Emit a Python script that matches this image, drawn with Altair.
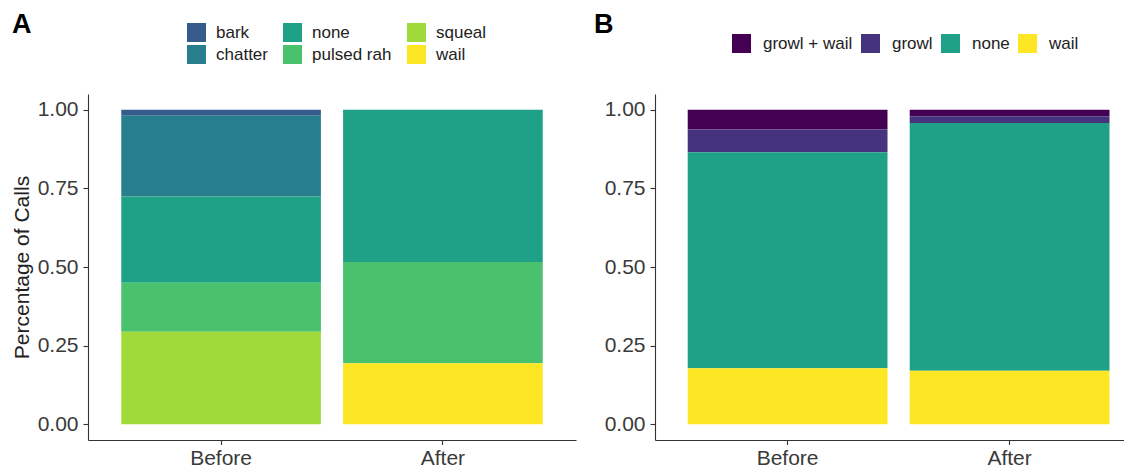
import altair as alt
import pandas as pd

periods = ["Before", "After"]
y_ticks = [0, 0.25, 0.5, 0.75, 1.0]

# Panel A
a_period = ["Before", "Before", "Before", "Before", "Before", "After", "After", "After"]
a_call = ["bark", "chatter", "none", "pulsed rah", "squeal", "none", "pulsed rah", "wail"]
a_share = [0.019, 0.257, 0.274, 0.156, 0.294, 0.484, 0.322, 0.194]
a_stack = ["bark", "chatter", "none", "pulsed rah", "squeal", "wail"]  # top -> bottom
a_legend_order = ["bark", "none", "squeal", "chatter", "pulsed rah", "wail"]
a_legend_colors = ["#365C8D", "#1FA187", "#9FDA3A", "#277F8E", "#4AC16D", "#FDE725"]

# Panel B
b_period = ["Before", "Before", "Before", "Before", "After", "After", "After", "After"]
b_call = ["growl + wail", "growl", "none", "wail", "growl + wail", "growl", "none", "wail"]
b_share = [0.063, 0.072, 0.687, 0.178, 0.021, 0.021, 0.788, 0.170]
b_stack = ["growl + wail", "growl", "none", "wail"]  # top -> bottom
b_legend_colors = ["#440154", "#46337E", "#1FA187", "#FDE725"]

df_a = pd.DataFrame({"period": a_period, "call": a_call, "share": a_share})
df_a["ord"] = [len(a_stack) - 1 - a_stack.index(c) for c in a_call]
df_b = pd.DataFrame({"period": b_period, "call": b_call, "share": b_share})
df_b["ord"] = [len(b_stack) - 1 - b_stack.index(c) for c in b_call]

FONT = "Liberation Sans"
AX = dict(domainColor="#333333", domainWidth=1.1, tickColor="#333333", tickWidth=1.1,
          labelFontSize=21, labelColor="#3a3a3a", labelFont=FONT, grid=False)


def yaxis(title):
    kw = dict(AX)
    kw.update(values=y_ticks, format=".2f", tickSize=5, labelPadding=5)
    if title:
        kw.update(title=title, titleFontSize=21, titleFont=FONT, titleFontWeight="normal",
                  titleColor="#222222", titlePadding=5)
    else:
        kw.update(title=None)
    return alt.Axis(**kw)


xaxis = alt.Axis(title=None, labelAngle=0, tickSize=4.5, labelPadding=3, **AX)

ysc = alt.Scale(domain=[-0.05, 1.05], nice=False, zero=False)


def panel_title(text, dx, dy):
    return alt.TitleParams(text, anchor="start", frame="group", fontSize=27, fontWeight="bold",
                           font=FONT, color="black", baseline="top", dx=dx, dy=dy)


chart_a = alt.Chart(df_a, title=panel_title("A", -76, 20)).mark_bar().encode(
    x=alt.X("period:N", sort=periods, axis=xaxis,
            scale=alt.Scale(paddingInner=0.1, paddingOuter=0.15)),
    y=alt.Y("share:Q", stack="zero", scale=ysc, axis=yaxis("Percentage of Calls")),
    color=alt.Color("call:N", scale=alt.Scale(domain=a_legend_order, range=a_legend_colors),
                    legend=alt.Legend(title=None, orient="none", legendX=99, legendY=-71,
                                      direction="horizontal", columns=3, symbolType="square",
                                      symbolSize=361, symbolStrokeWidth=0, labelFontSize=17,
                                      labelFont=FONT, labelColor="#222222", labelOffset=10,
                                      rowPadding=3, columnPadding=15, padding=0)),
    order=alt.Order("ord:Q", sort="ascending"),
).properties(width=488, height=346)

chart_b = alt.Chart(df_b, title=panel_title("B", -61, 9)).mark_bar().encode(
    x=alt.X("period:N", sort=periods, axis=xaxis,
            scale=alt.Scale(paddingInner=0.1, paddingOuter=0.1063, align=0.693)),
    y=alt.Y("share:Q", stack="zero", scale=ysc, axis=yaxis(None)),
    color=alt.Color("call:N", scale=alt.Scale(domain=b_stack, range=b_legend_colors),
                    legend=alt.Legend(title=None, orient="none", legendX=77, legendY=-60,
                                      direction="horizontal", columns=4, symbolType="square",
                                      symbolSize=361, symbolStrokeWidth=0, labelFontSize=17,
                                      labelFont=FONT, labelColor="#222222", labelOffset=12,
                                      columnPadding=8, padding=0)),
    order=alt.Order("ord:Q", sort="ascending"),
).properties(width=469, height=346)

chart = alt.hconcat(chart_a, chart_b, spacing=79, bounds="flush").resolve_scale(
    color="independent", x="independent", y="independent"
).properties(
    padding={"left": 3, "top": 3, "right": 0, "bottom": 0}
).configure(font=FONT, background="white").configure_view(strokeWidth=0)

chart.save("out.html", embed_options={"renderer": "svg", "actions": False})
